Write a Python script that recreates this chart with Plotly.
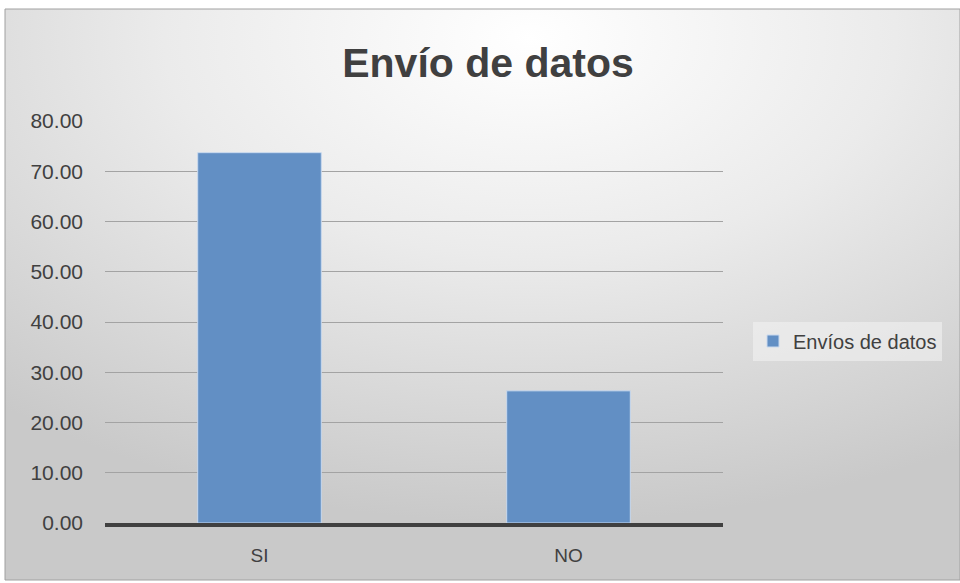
import plotly.graph_objects as go
import base64

categories = ["SI", "NO"]
values = [73.7, 26.3]
series_name = "Envíos de datos"
title_text = "Envío de datos"
tick_vals = [0, 10, 20, 30, 40, 50, 60, 70, 80]

svg = """<svg xmlns='http://www.w3.org/2000/svg' width='955' height='571' preserveAspectRatio='none'>
<defs><radialGradient id='g' cx='0.55' cy='0.05' r='0.85' fx='0.55' fy='0.05'>
<stop offset='0' stop-color='#ffffff'/><stop offset='0.45' stop-color='#ebebeb'/><stop offset='1' stop-color='#c9c9c9'/></radialGradient></defs>
<rect width='955' height='571' fill='url(#g)'/></svg>"""
uri = "data:image/svg+xml;base64," + base64.b64encode(svg.encode()).decode()

W, H = 960, 583
L, R, T, B = 105, 237, 121, 60
PW, PH = W - L - R, H - T - B

def px(x):
    return (x - L) / PW

def py(y):
    return (H - B - y) / PH

fig = go.Figure()
fig.add_trace(go.Bar(
    x=categories, y=values, name=series_name,
    marker=dict(color="#628FC4", line=dict(color="#c9d9ee", width=1)),
    showlegend=True,
))

font = "Liberation Sans, Arial, sans-serif"
fig.update_layout(
    width=W, height=H,
    paper_bgcolor="white", plot_bgcolor="rgba(0,0,0,0)",
    margin=dict(l=L, r=R, t=T, b=B, autoexpand=False),
    bargap=0.6,
    title=dict(text="<b>" + title_text + "</b>", x=488 / W, xanchor="center", xref="container",
               y=1 - 63 / H, yanchor="middle", yref="container",
               font=dict(family=font, size=41, color="#404040")),
    font=dict(family=font, size=19, color="#404040"),
    legend=dict(x=px(753), y=py(341), xanchor="left", yanchor="middle",
                bgcolor="rgba(242,242,242,0.6)", font=dict(size=20, color="#404040"),
                itemwidth=30),
    images=[dict(source=uri, xref="paper", yref="paper", x=px(5), y=py(9),
                 sizex=955 / PW, sizey=571 / PH, xanchor="left", yanchor="top",
                 sizing="stretch", layer="below")],
    shapes=[dict(type="rect", xref="paper", yref="paper", x0=px(5), x1=px(960),
                 y0=py(580), y1=py(9), line=dict(color="#a0a0a0", width=1),
                 fillcolor="rgba(0,0,0,0)", layer="above")],
)
fig.update_yaxes(range=[0, 80], tickvals=tick_vals, tickformat=".2f",
                 showgrid=True, gridcolor="#a3a3a3", gridwidth=1,
                 zeroline=False, showline=False, ticks="", ticklabelstandoff=21,
                 tickfont=dict(size=21))
fig.update_xaxes(showline=True, linecolor="#404040", linewidth=4, ticks="",
                 ticklabelstandoff=12, tickfont=dict(size=19))
fig.write_html("out.html", config={"displayModeBar": False},
               post_script="document.body.style.margin='0';document.body.style.padding='0';")
